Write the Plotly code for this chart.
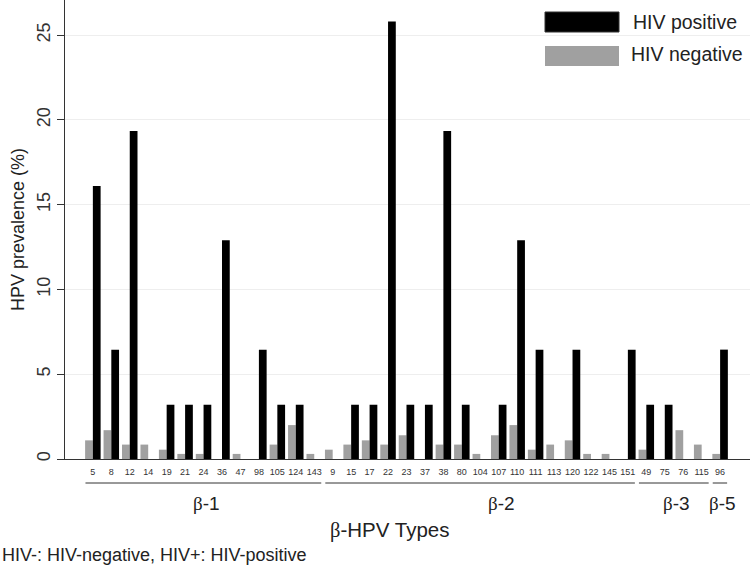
import plotly.graph_objects as go

# HPV types by group
beta1_types = ["5", "8", "12", "14", "19", "21", "24", "36", "47", "98", "105", "124", "143"]
beta2_types = ["9", "15", "17", "22", "23", "37", "38", "80", "104", "107", "110", "111", "113",
               "120", "122", "145", "151"]
beta3_types = ["49", "75", "76", "115"]
beta5_types = ["96"]

hpv_types = beta1_types + beta2_types + beta3_types + beta5_types

# HIV negative prevalence (%)
hiv_negative = [1.1, 1.7, 0.85, 0.85, 0.55, 0.3, 0.3, 0.0, 0.3, 0.0, 0.85, 2.0, 0.3,
                0.55, 0.85, 1.1, 0.85, 1.4, 0.0, 0.85, 0.85, 0.3, 1.4, 2.0, 0.55, 0.85,
                1.1, 0.3, 0.3, 0.0,
                0.55, 0.0, 1.7, 0.85,
                0.3]
# HIV positive prevalence (%)
hiv_positive = [16.1, 6.45, 19.35, 0.0, 3.2, 3.2, 3.2, 12.9, 0.0, 6.45, 3.2, 3.2, 0.0,
                0.0, 3.2, 3.2, 25.8, 3.2, 3.2, 19.35, 3.2, 0.0, 3.2, 12.9, 6.45, 0.0,
                6.45, 0.0, 0.0, 6.45,
                3.2, 3.2, 0.0, 0.0,
                6.45]

groups = [("β-1", beta1_types), ("β-2", beta2_types), ("β-3", beta3_types), ("β-5", beta5_types)]

SANS = "Arial, Liberation Sans, sans-serif"
SERIF = "Times New Roman, Liberation Serif, serif"

fig = go.Figure()
fig.add_trace(go.Bar(x=hpv_types, y=hiv_negative, name="HIV negative",
                     marker=dict(color="#a0a0a0", line=dict(width=0))))
fig.add_trace(go.Bar(x=hpv_types, y=hiv_positive, name="HIV positive",
                     marker=dict(color="#000000", line=dict(width=0))))

W, H = 750, 571
ml, mr, mt, mb = 65, 0, 0, 112
pw, ph = W - ml - mr, H - mt - mb


def py(px):  # pixel y (from top) -> paper y
    return (H - mb - px) / ph


def pxx(px):  # pixel x -> paper x
    return (px - ml) / pw


CAT0, STEP = 93.3, 18.45  # pixel centre of first category and spacing (for label placement)

shapes = []
annotations = []
label_px = {"β-1": 206.7, "β-2": 501.7, "β-3": 676.7, "β-5": 723.0}
idx = 0
for label, types in groups:
    start = idx
    end = idx + len(types) - 1
    shapes.append(dict(type="line", xref="x", yref="paper", x0=start - 0.4, x1=end + 0.38,
                       y0=py(483), y1=py(483), line=dict(color="#333333", width=1)))
    num = label.split("-")[1]
    annotations.append(dict(xref="x", yref="paper", x=(label_px[label] - CAT0) / STEP,
                            y=py(503), text=f"<span style='font-family:{SERIF}'>β</span>-{num}",
                            showarrow=False, font=dict(size=19, color="#222222", family=SANS),
                            xanchor="center", yanchor="middle"))
    idx = end + 1

annotations.append(dict(xref="paper", yref="paper", x=pxx(389), y=py(530),
                        text=f"<span style='font-family:{SERIF}'>β</span>-HPV Types",
                        showarrow=False, font=dict(size=20.5, color="#222222", family=SANS),
                        xanchor="center", yanchor="middle"))
annotations.append(dict(xref="paper", yref="paper", x=pxx(0), y=py(555),
                        text="HIV-: HIV-negative, HIV+: HIV-positive",
                        showarrow=False, font=dict(size=18, color="#222222", family=SANS),
                        xanchor="left", yanchor="middle"))
annotations.append(dict(xref="paper", yref="paper", x=pxx(18), y=py(230),
                        text="HPV prevalence (%)", textangle=-90,
                        showarrow=False, font=dict(size=18, color="#222222", family=SANS),
                        xanchor="center", yanchor="middle"))

# Custom legend (large swatches)
shapes.append(dict(type="rect", xref="paper", yref="paper", x0=pxx(545), x1=pxx(619),
                   y0=py(32), y1=py(12), fillcolor="#000000", line=dict(color="#333333", width=1)))
shapes.append(dict(type="rect", xref="paper", yref="paper", x0=pxx(545), x1=pxx(619),
                   y0=py(66), y1=py(46), fillcolor="#a0a0a0", line=dict(width=0)))
annotations.append(dict(xref="paper", yref="paper", x=pxx(631), y=py(22), text="HIV positive",
                        showarrow=False, font=dict(size=19.5, color="#222222", family=SANS),
                        xanchor="left", yanchor="middle"))
annotations.append(dict(xref="paper", yref="paper", x=pxx(629), y=py(54), text="HIV negative",
                        showarrow=False, font=dict(size=19.5, color="#222222", family=SANS),
                        xanchor="left", yanchor="middle"))

fig.update_layout(
    width=W, height=H,
    margin=dict(l=ml, r=mr, t=mt, b=mb, pad=0),
    paper_bgcolor="white", plot_bgcolor="white",
    barmode="group", bargap=0.16, bargroupgap=0,
    showlegend=False,
    font=dict(family=SANS, color="#222222"),
    shapes=shapes, annotations=annotations,
)
fig.update_xaxes(type="category", range=[-1.51, 35.62], showline=True, linecolor="#333333",
                 linewidth=1, ticks="", showgrid=False, tickfont=dict(size=9, color="#333333"),
                 ticklabelstandoff=4)
fig.update_yaxes(range=[0, 27.07], tickvals=[0, 5, 10, 15, 20, 25], showline=True,
                 linecolor="#333333", linewidth=1, ticks="outside", ticklen=7,
                 tickcolor="#333333", showgrid=True, gridcolor="#eeeeee", gridwidth=1,
                 zeroline=False, tickangle=-90, tickfont=dict(size=18, color="#333333"))

fig.write_html("out.html", config={"displayModeBar": False},
               post_script="document.body.style.margin='0px';document.body.style.overflow='hidden';")
